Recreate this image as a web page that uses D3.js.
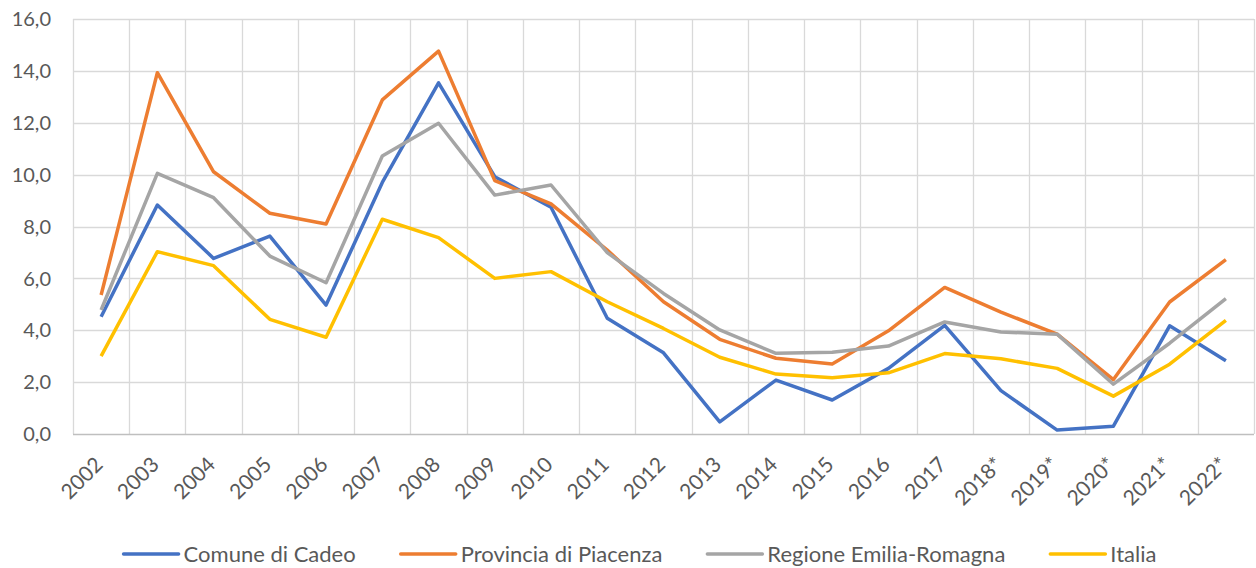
<!DOCTYPE html>
<html>
<head>
<meta charset="utf-8">
<script src="https://cdn.jsdelivr.net/npm/d3@7"></script>
<style>
  body { margin: 0; background: #fff; }
  svg text { font-family: Lato, "Open Sans", sans-serif; fill: #595959; }
</style>
</head>
<body>
<div id="vis"></div>
<script>
// categories and series
var years = ["2002","2003","2004","2005","2006","2007","2008","2009","2010","2011",
             "2012","2013","2014","2015","2016","2017","2018*","2019*","2020*","2021*","2022*"];
var cadeo    = [4.52, 8.83, 6.77, 7.63, 4.97, 9.7, 13.54, 9.92, 8.74, 4.46, 3.13, 0.47, 2.08, 1.31, 2.53, 4.19, 1.67, 0.15, 0.3, 4.17, 2.82];
var piacenza = [5.36, 13.93, 10.11, 8.51, 8.1, 12.88, 14.76, 9.77, 8.87, 7.09, 5.1, 3.65, 2.92, 2.7, 3.98, 5.65, 4.7, 3.85, 2.1, 5.09, 6.72];
var emilia   = [4.78, 10.05, 9.11, 6.86, 5.83, 10.72, 11.98, 9.21, 9.6, 6.99, 5.42, 4.01, 3.11, 3.15, 3.39, 4.32, 3.93, 3.85, 1.92, 3.5, 5.22];
var italia   = [3.0, 7.03, 6.49, 4.42, 3.73, 8.28, 7.57, 6.0, 6.26, 5.1, 4.07, 2.96, 2.31, 2.17, 2.36, 3.1, 2.9, 2.53, 1.46, 2.69, 4.38];
var seriesNames = ["Comune di Cadeo", "Provincia di Piacenza", "Regione Emilia-Romagna", "Italia"];
var yTicks = [0, 2, 4, 6, 8, 10, 12, 14, 16];

var colours = ["#4472C4", "#ED7D31", "#A5A5A5", "#FFC000"];
var series = [cadeo, piacenza, emilia, italia].map(function(v, i){
    return { name: seriesNames[i], colour: colours[i], values: v };
});

var width = 1256, height = 568;
var margin = { left: 73, right: 2, top: 19, bottom: 134 };

var svg = d3.select("#vis").append("svg")
    .attr("width", width)
    .attr("height", height);

var x = d3.scaleBand().domain(years).range([margin.left, width - margin.right]);
var y = d3.scaleLinear().domain([0, 16]).range([height - margin.bottom, margin.top]);

var fmt = function(d){ return d3.format(".1f")(d).replace(".", ","); };

// horizontal grid
svg.append("g").selectAll("line").data(yTicks.filter(function(d){ return d > 0; }))
    .enter().append("line")
    .attr("x1", margin.left).attr("x2", width - margin.right)
    .attr("y1", function(d){ return Math.round(y(d)) + 0.5; })
    .attr("y2", function(d){ return Math.round(y(d)) + 0.5; })
    .attr("stroke", "#d9d9d9").attr("stroke-width", 1.3);

// vertical grid at band edges
var edges = years.map(function(d){ return x(d); }).concat([width - margin.right]);
svg.append("g").selectAll("line").data(edges)
    .enter().append("line")
    .attr("x1", function(d){ return Math.round(d) + 0.5; })
    .attr("x2", function(d){ return Math.round(d) + 0.5; })
    .attr("y1", y(16)).attr("y2", y(0))
    .attr("stroke", "#d9d9d9").attr("stroke-width", 1.3);

// x axis line
svg.append("line")
    .attr("x1", margin.left).attr("x2", width - margin.right)
    .attr("y1", Math.round(y(0)) + 0.5).attr("y2", Math.round(y(0)) + 0.5)
    .attr("stroke", "#bfbfbf").attr("stroke-width", 1.5);

// y labels
svg.append("g").selectAll("text").data(yTicks)
    .enter().append("text")
    .attr("x", 51)
    .attr("y", function(d){ return y(d); })
    .attr("dy", "0.36em")
    .attr("text-anchor", "end")
    .style("font-size", "20px")
    .text(fmt);

// x labels, rotated
svg.append("g").selectAll("text").data(years)
    .enter().append("text")
    .attr("transform", function(d){
        return "translate(" + (x(d) + x.bandwidth() / 2 + 3) + "," + 466 + ") rotate(-45)";
    })
    .attr("text-anchor", "end")
    .style("font-size", "21px")
    .text(function(d){ return d; });

// lines
var line = d3.line()
    .x(function(d, i){ return x(years[i]) + x.bandwidth() / 2; })
    .y(function(d){ return y(d); });

svg.append("g").selectAll("path").data(series)
    .enter().append("path")
    .attr("d", function(s){ return line(s.values); })
    .attr("fill", "none")
    .attr("stroke", function(s){ return s.colour; })
    .attr("stroke-width", 3.5)
    .attr("stroke-linejoin", "round");

// legend
var legend = svg.append("g");
var items = legend.selectAll("g").data(series).enter().append("g");
items.append("line")
    .attr("x1", 0).attr("x2", 55)
    .attr("y1", 554).attr("y2", 554)
    .attr("stroke", function(s){ return s.colour; })
    .attr("stroke-width", 3.5)
    .attr("stroke-linecap", "round");
items.append("text")
    .attr("x", 60).attr("y", 554).attr("dy", "0.36em")
    .style("font-size", "22px")
    .text(function(s){ return s.name; });

var pos = 0, offsets = [];
items.each(function(){
    offsets.push(pos);
    pos += 60 + this.querySelector("text").getComputedTextLength() + 45;
});
var total = pos - 45;
var start = 640 - total / 2;
items.attr("transform", function(s, i){ return "translate(" + (start + offsets[i]) + ",0)"; });
</script>
</body>
</html>
